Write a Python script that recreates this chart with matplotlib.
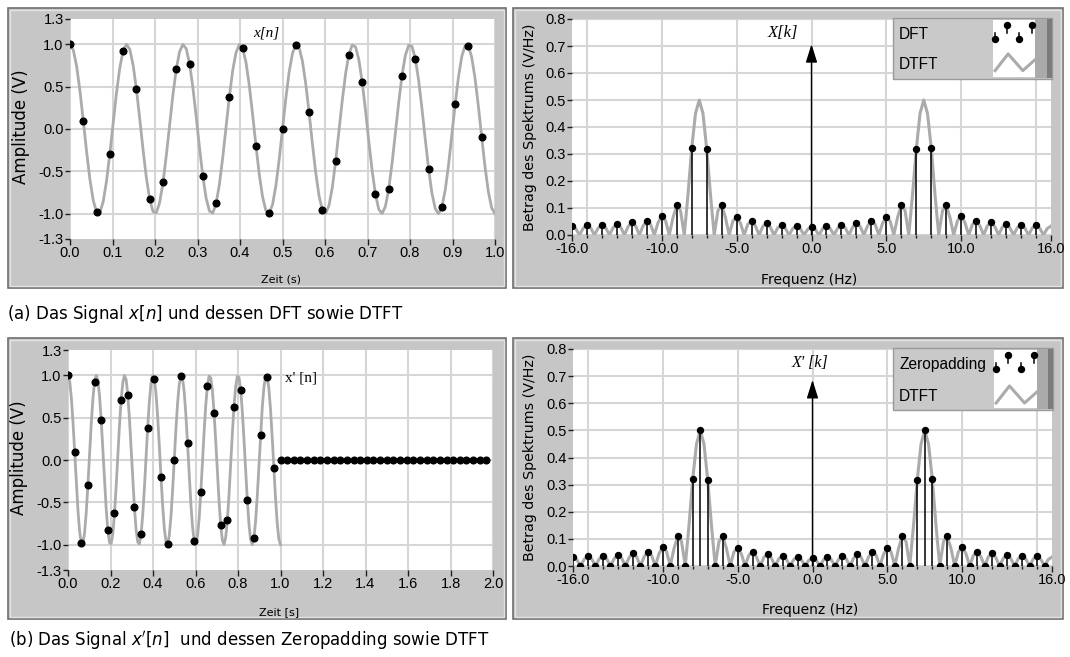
import numpy as np
import matplotlib
matplotlib.use("Agg")
import matplotlib.pyplot as plt
from matplotlib.patches import Rectangle
from matplotlib.lines import Line2D
from matplotlib.legend_handler import HandlerBase
from matplotlib import font_manager as fm

# ---------------------------------------------------------------- data
fs = 32            # samples per second of x[n]
curve_rate = 128   # points per second of the grey continuous signal
dtft_rate = 4      # DTFT points per Hz

# x[n], n = 0..31 (black dots)
x_samples = [1.00, 0.10, -0.98, -0.29, 0.92, 0.47, -0.83, -0.63,
             0.71, 0.77, -0.56, -0.88, 0.38, 0.96, -0.20, -0.99,
             0.00, 0.99, 0.20, -0.96, -0.38, 0.88, 0.56, -0.77,
             -0.71, 0.63, 0.83, -0.47, -0.92, 0.29, 0.98, -0.10]

# zeros appended for zero padding (n = 32..63)
x_zero_tail = [0.0, 0.0, 0.0, 0.0, 0.0, 0.0, 0.0, 0.0,
               0.0, 0.0, 0.0, 0.0, 0.0, 0.0, 0.0, 0.0,
               0.0, 0.0, 0.0, 0.0, 0.0, 0.0, 0.0, 0.0,
               0.0, 0.0, 0.0, 0.0, 0.0, 0.0, 0.0, 0.0]

# grey continuous signal, t = 0 .. 1 s
x_curve = [1.000, 0.933, 0.741, 0.450, 0.098, -0.267, -0.596, -0.845,
           -0.981, -0.985, -0.858, -0.615, -0.290, 0.074, 0.428, 0.724,
           0.924, 1.000, 0.942, 0.757, 0.471, 0.122, -0.243, -0.576,
           -0.831, -0.976, -0.989, -0.870, -0.636, -0.314, 0.049, 0.405,
           0.707, 0.914, 0.999, 0.950, 0.773, 0.493, 0.147, -0.219,
           -0.556, -0.818, -0.970, -0.992, -0.882, -0.653, -0.337, 0.025,
           0.383, 0.690, 0.904, 0.997, 0.957, 0.788, 0.514, 0.171,
           -0.195, -0.535, -0.803, -0.964, -0.995, -0.893, -0.672, -0.360,
           0.000, 0.360, 0.672, 0.893, 0.995, 0.964, 0.803, 0.535,
           0.195, -0.171, -0.514, -0.788, -0.957, -0.997, -0.904, -0.690,
           -0.383, -0.025, 0.337, 0.653, 0.882, 0.992, 0.970, 0.818,
           0.556, 0.219, -0.147, -0.493, -0.773, -0.950, -0.999, -0.914,
           -0.707, -0.405, -0.049, 0.314, 0.636, 0.870, 0.989, 0.976,
           0.831, 0.576, 0.243, -0.122, -0.471, -0.757, -0.942, -1.000,
           -0.924, -0.724, -0.428, -0.074, 0.290, 0.615, 0.858, 0.985,
           0.981, 0.845, 0.596, 0.267, -0.098, -0.450, -0.741, -0.933,
           -1.000]

# |X[k]|, k = -16 .. 15 Hz
dft_mag = [0.033, 0.036, 0.037, 0.040, 0.047, 0.052, 0.071, 0.110,
           0.322, 0.318, 0.110, 0.066, 0.051, 0.043, 0.036, 0.034,
           0.030, 0.034, 0.036, 0.043, 0.051, 0.066, 0.110, 0.318,
           0.322, 0.110, 0.071, 0.052, 0.047, 0.040, 0.037, 0.036]

# |X'[k]| (zero padded to 64), f = -16 .. 15.5 Hz in 0.5 Hz steps
zeropad_mag = [0.033, 0.0, 0.036, 0.0, 0.037, 0.0, 0.040, 0.0,
               0.047, 0.0, 0.052, 0.0, 0.071, 0.0, 0.110, 0.0,
               0.322, 0.500, 0.318, 0.0, 0.110, 0.0, 0.066, 0.0,
               0.051, 0.0, 0.043, 0.0, 0.036, 0.0, 0.034, 0.0,
               0.030, 0.0, 0.034, 0.0, 0.036, 0.0, 0.043, 0.0,
               0.051, 0.0, 0.066, 0.0, 0.110, 0.0, 0.318, 0.500,
               0.322, 0.0, 0.110, 0.0, 0.071, 0.0, 0.052, 0.0,
               0.047, 0.0, 0.040, 0.0, 0.037, 0.0, 0.036, 0.0]

# DTFT magnitude, f = -16 .. 16 Hz in 0.25 Hz steps
dtft_mag = [0.033, 0.024, 0.0, 0.025, 0.036, 0.026, 0.0, 0.026,
            0.037, 0.027, 0.0, 0.027, 0.040, 0.029, 0.0, 0.031,
            0.047, 0.034, 0.0, 0.034, 0.052, 0.039, 0.0, 0.046,
            0.071, 0.053, 0.0, 0.065, 0.110, 0.090, 0.0, 0.150,
            0.322, 0.450, 0.500, 0.450, 0.318, 0.150, 0.0, 0.090,
            0.110, 0.065, 0.0, 0.052, 0.066, 0.044, 0.0, 0.040,
            0.051, 0.034, 0.0, 0.032, 0.043, 0.029, 0.0, 0.027,
            0.036, 0.025, 0.0, 0.024, 0.034, 0.024, 0.0, 0.021,
            0.030,
            0.021, 0.0, 0.024, 0.034, 0.024, 0.0, 0.025, 0.036,
            0.027, 0.0, 0.029, 0.043, 0.032, 0.0, 0.034, 0.051,
            0.040, 0.0, 0.044, 0.066, 0.052, 0.0, 0.065, 0.110,
            0.090, 0.0, 0.150, 0.318, 0.450, 0.500, 0.450, 0.322,
            0.150, 0.0, 0.090, 0.110, 0.065, 0.0, 0.053, 0.071,
            0.046, 0.0, 0.039, 0.052, 0.034, 0.0, 0.034, 0.047,
            0.031, 0.0, 0.029, 0.040, 0.027, 0.0, 0.027, 0.037,
            0.026, 0.0, 0.026, 0.036, 0.025, 0.0, 0.024, 0.033]

arrow_top_a = 0.707
arrow_top_b = 0.686

time_ticks_a = [0.0, 0.1, 0.2, 0.3, 0.4, 0.5, 0.6, 0.7, 0.8, 0.9, 1.0]
time_labels_a = ["0.0", "0.1", "0.2", "0.3", "0.4", "0.5", "0.6", "0.7", "0.8", "0.9", "1.0"]
time_ticks_b = [0.0, 0.2, 0.4, 0.6, 0.8, 1.0, 1.2, 1.4, 1.6, 1.8, 2.0]
time_labels_b = ["0.0", "0.2", "0.4", "0.6", "0.8", "1.0", "1.2", "1.4", "1.6", "1.8", "2.0"]
amp_ticks = [-1.0, -0.5, 0.0, 0.5, 1.0]
amp_labels = ["-1.0", "-0.5", "0.0", "0.5", "1.0"]
amp_edge_ticks = [-1.3, 1.3]
amp_edge_labels = ["-1.3", "1.3"]
freq_ticks = [-16, -10, -5, 0, 5, 10, 16]
freq_labels = ["-16.0", "-10.0", "-5.0", "0.0", "5.0", "10.0", "16.0"]
freq_grid = [-15, -10, -5, 0, 5, 10, 15]
freq_minor = list(range(-16, 17))
mag_ticks = [0.0, 0.1, 0.2, 0.3, 0.4, 0.5, 0.6, 0.7, 0.8]
mag_labels = ["0.0", "0.1", "0.2", "0.3", "0.4", "0.5", "0.6", "0.7", "0.8"]

# axis positions derived from sampling rates
t_samples = np.arange(len(x_samples)) / fs
x_padded = x_samples + x_zero_tail
t_padded = np.arange(len(x_padded)) / fs
t_curve = np.arange(len(x_curve)) / curve_rate
f_dft = np.arange(len(dft_mag)) - len(dft_mag) // 2
f_pad = (np.arange(len(zeropad_mag)) - len(zeropad_mag) // 2) * (fs / len(zeropad_mag))
f_dtft = (np.arange(len(dtft_mag)) - len(dtft_mag) // 2) / dtft_rate

# ---------------------------------------------------------------- style
W, H = 1070, 657
fig = plt.figure(figsize=(W / 100, H / 100), dpi=100)
fig.patch.set_facecolor("white")

PANEL = "#c6c6c6"
GRID = "#d6d6d6"
CURVE = "#ababab"
TICKC = "#1e1e1e"

_names = {f.name for f in fm.fontManager.ttflist}
if "Liberation Sans Narrow" in _names:
    TICK_FAMILY, TICK_SIZE = "Liberation Sans Narrow", 11.5
else:
    TICK_FAMILY, TICK_SIZE = "Liberation Sans", 10.5


def fx(x):
    return x / W


def fy(y):
    return 1 - y / H


def px_rect(x0, y0, x1, y1):
    return [fx(x0), fy(y1), (x1 - x0) / W, (y1 - y0) / H]


def panel(x0, y0, x1, y1):
    l, b, w, h = px_rect(x0, y0, x1, y1)
    fig.add_artist(Rectangle((l, b), w, h, transform=fig.transFigure,
                             fc=PANEL, ec="#707070", lw=1.2, zorder=-5))
    l, b, w, h = px_rect(x0 + 2, y0 + 2, x1 - 2, y1 - 2)
    fig.add_artist(Rectangle((l, b), w, h, transform=fig.transFigure,
                             fc="none", ec="#e2e2e2", lw=1.0, zorder=-4))


def base_axes(x0, y0, x1, y1):
    ax = fig.add_axes(px_rect(x0, y0, x1, y1))
    ax.set_facecolor("white")
    for s in ax.spines.values():
        s.set_visible(False)
    ax.set_axisbelow(True)
    ax.tick_params(which="both", direction="out", color=TICKC, width=1.0,
                   labelsize=TICK_SIZE, labelfontfamily=TICK_FAMILY)
    ax.tick_params(axis="x", which="major", length=4.5, pad=0.5)
    ax.tick_params(axis="x", which="minor", length=2.5)
    ax.tick_params(axis="y", which="both", length=3.5, pad=1)
    return ax


def time_axes(rect, xmax, xticks, xlabels):
    ax = base_axes(*rect)
    ax.set_xlim(0, xmax)
    ax.set_ylim(-1.3, 1.3)
    ax.set_xticks(xticks, xlabels)
    ax.set_yticks(amp_ticks, amp_labels)
    ax.set_yticks(amp_edge_ticks, amp_edge_labels, minor=True)
    ax.tick_params(axis="y", which="minor", length=3.5, labelsize=TICK_SIZE,
                   labelfontfamily=TICK_FAMILY)
    ax.grid(True, which="major", color=GRID, lw=1.5)
    return ax


def freq_axes(rect):
    ax = base_axes(*rect)
    ax.set_xlim(-16, 16)
    ax.set_ylim(0, 0.8)
    ax.set_xticks(freq_ticks, freq_labels)
    ax.set_xticks(freq_minor, minor=True)
    ax.set_yticks(mag_ticks, mag_labels)
    ax.grid(True, which="major", axis="y", color=GRID, lw=1.5)
    ax.vlines(freq_grid, 0, 1, transform=ax.get_xaxis_transform(),
              color=GRID, lw=1.5, zorder=0.5)
    return ax


class HandlerStemIcon(HandlerBase):
    """LabVIEW-like stem glyph: dots above / below a middle line."""
    def create_artists(self, legend, orig_handle, xdescent, ydescent,
                       width, height, fontsize, trans):
        markerline, stemlines, baseline = orig_handle
        yb = -ydescent
        xs = -xdescent + width * np.array([0.05, 0.33, 0.62, 0.93])
        ys = yb + height * np.array([0.33, 0.85, 0.33, 0.85])
        ymid = yb + height * 0.56
        arts = []
        for xi, yi in zip(xs, ys):
            arts.append(Line2D([xi, xi], [ymid, yi], color="black",
                               lw=stemlines.get_linewidths()[0], transform=trans))
        arts.append(Line2D(xs, ys, ls="none", marker=markerline.get_marker(),
                           ms=markerline.get_markersize(), color="black",
                           transform=trans))
        return arts


class HandlerZigzag(HandlerBase):
    def create_artists(self, legend, orig_handle, xdescent, ydescent,
                       width, height, fontsize, trans):
        yb = -ydescent
        xs = -xdescent + width * np.array([0.05, 0.36, 0.71, 1.0])
        ys = yb + height * np.array([0.26, 0.89, 0.26, 0.67])
        return [Line2D(xs, ys, color=orig_handle.get_color(),
                       lw=orig_handle.get_linewidth(), transform=trans)]


def labview_legend(ax, handles, labels, box, icon, row_pitch):
    bx0, by0, bx1, by1 = box
    ix0, iy0, ix1, iy1 = icon
    l, b, w, h = px_rect(bx0, by0, bx1, by1)
    ax.add_patch(Rectangle((l, b), w, h, transform=fig.transFigure, fc="#c9c9c9",
                           ec="#9a9a9a", lw=1.0, zorder=4.5, clip_on=False))
    l, b, w, h = px_rect(ix0, iy0, ix1, iy1)
    ax.add_patch(Rectangle((l, b), w, h, transform=fig.transFigure, fc="white",
                           ec="none", zorder=4.6, clip_on=False))
    l, b, w, h = px_rect(ix1, by0 + 1, bx1 - 5, by1 - 1)
    ax.add_patch(Rectangle((l, b), w, h, transform=fig.transFigure, fc="#aaaaaa",
                           ec="none", zorder=4.6, clip_on=False))
    l, b, w, h = px_rect(bx1 - 5, by0 + 1, bx1, by1 - 1)
    ax.add_patch(Rectangle((l, b), w, h, transform=fig.transFigure, fc="#7c7c7c",
                           ec="none", zorder=4.6, clip_on=False))
    fsz = 10.0
    hbox_px = (iy1 - iy0) / 2.0 - 2          # height of one icon row
    gap_px = row_pitch - hbox_px
    hh = (hbox_px * 0.72 / fsz - 0.245) / 0.65
    leg = ax.legend(handles=handles, labels=["" for _ in labels],
                    loc="upper right", bbox_to_anchor=(fx(ix1), fy(iy0 + 1)),
                    bbox_transform=fig.transFigure, frameon=False,
                    borderpad=0, borderaxespad=0, handletextpad=0,
                    handlelength=(ix1 - ix0) * 0.72 / fsz, handleheight=hh,
                    labelspacing=gap_px * 0.72 / fsz, markerfirst=False,
                    fontsize=fsz,
                    handler_map={handles[0]: HandlerStemIcon(),
                                 handles[1]: HandlerZigzag()})
    leg.set_zorder(5)
    for i, lab in enumerate(labels):
        ax.text(fx(bx0 + 6), fy(iy0 + 1 + hbox_px / 2 + i * row_pitch), lab,
                transform=fig.transFigure, ha="left", va="center",
                family="Liberation Sans", fontsize=11.2, zorder=6)
    return leg


# ---------------------------------------------------------------- panels
panel(8, 8, 506, 288)
panel(513, 8, 1063, 288)
panel(8, 338, 506, 619)
panel(513, 338, 1063, 619)

# (a) time signal
ax1 = time_axes((70, 19, 495, 239), 1.0, time_ticks_a, time_labels_a)
ax1.plot(t_curve, x_curve, color=CURVE, lw=2.0, zorder=2)
ax1.plot(t_samples, x_samples, "o", color="black", ms=4.8, zorder=3)
ax1.text(0.43, 1.13, "x[n]", family="Liberation Serif", style="italic",
         fontsize=11, va="center", ha="left")

# (a) spectrum
ax2 = freq_axes((572, 19, 1051, 235))
dtft_line_a, = ax2.plot(f_dtft, dtft_mag, color=CURVE, lw=2.2, zorder=2)
st_a = ax2.stem(f_dft, dft_mag)
st_a.markerline.set_color("black")
st_a.markerline.set_markersize(4.3)
st_a.markerline.set_zorder(4)
st_a.stemlines.set_color("black")
st_a.stemlines.set_linewidth(1.1)
st_a.stemlines.set_zorder(3)
st_a.baseline.set_visible(False)
ax2.annotate("", xy=(0, arrow_top_a), xytext=(0, 0),
             arrowprops=dict(arrowstyle="-|>,head_length=0.8,head_width=0.25",
                             color="black", lw=1.0, mutation_scale=14,
                             shrinkA=0, shrinkB=0))
ax2.text(-0.9, 0.748, "X[k]", family="Liberation Serif", style="italic",
         fontsize=12, va="center", ha="right")
labview_legend(ax2, [st_a, dtft_line_a], ["DFT", "DTFT"],
               box=(893, 18, 1052, 79), icon=(993, 20, 1035, 77), row_pitch=30)

# (b) time signal with zero padding
ax3 = time_axes((68, 350, 493, 570), 2.0, time_ticks_b, time_labels_b)
ax3.plot(t_curve, x_curve, color=CURVE, lw=2.0, zorder=2)
ax3.plot(t_padded, x_padded, "o", color="black", ms=4.8, zorder=3)
ax3.text(1.02, 0.97, "x' [n]", family="Liberation Serif",
         fontsize=11, va="center", ha="left")

# (b) spectrum
ax4 = freq_axes((573, 349, 1052, 566))
dtft_line_b, = ax4.plot(f_dtft, dtft_mag, color=CURVE, lw=2.2, zorder=2)
st_b = ax4.stem(f_pad, zeropad_mag)
st_b.markerline.set_color("black")
st_b.markerline.set_markersize(4.3)
st_b.markerline.set_zorder(4)
st_b.stemlines.set_color("black")
st_b.stemlines.set_linewidth(1.1)
st_b.stemlines.set_zorder(3)
st_b.baseline.set_visible(False)
ax4.annotate("", xy=(0, arrow_top_b), xytext=(0, 0),
             arrowprops=dict(arrowstyle="-|>,head_length=0.8,head_width=0.25",
                             color="black", lw=1.0, mutation_scale=14,
                             shrinkA=0, shrinkB=0))
ax4.text(-0.2, 0.749, "X' [k]", family="Liberation Serif", style="italic",
         fontsize=11.5, va="center", ha="center")
labview_legend(ax4, [st_b, dtft_line_b], ["Zeropadding", "DTFT"],
               box=(893, 348, 1053, 410), icon=(994, 350, 1037, 408), row_pitch=32)

# ---------------------------------------------------------------- labels
fig.text(fx(21), fy(127), "Amplitude (V)", rotation=90, ha="center", va="center", fontsize=12)
fig.text(fx(19), fy(458), "Amplitude (V)", rotation=90, ha="center", va="center", fontsize=12)
fig.text(fx(530), fy(127), "Betrag des Spektrums (V/Hz)", rotation=90,
         ha="center", va="center", fontsize=10.3)
fig.text(fx(530), fy(457), "Betrag des Spektrums (V/Hz)", rotation=90,
         ha="center", va="center", fontsize=10.3)
fig.text(fx(809), fy(280), "Frequenz (Hz)", ha="center", va="center", fontsize=10)
fig.text(fx(810), fy(610), "Frequenz (Hz)", ha="center", va="center", fontsize=10)
fig.text(fx(281), fy(280), "Zeit (s)", ha="center", va="center", fontsize=8)
fig.text(fx(279), fy(612), "Zeit [s]", ha="center", va="center", fontsize=8)

fig.text(fx(7), fy(314), r"(a) Das Signal $x[n]$ und dessen DFT sowie DTFT",
         ha="left", va="center", fontsize=12)
fig.text(fx(9), fy(641), r"(b) Das Signal $x'[n]$  und dessen Zeropadding sowie DTFT",
         ha="left", va="center", fontsize=12)

fig.savefig("out.png", dpi=100, facecolor="white")
